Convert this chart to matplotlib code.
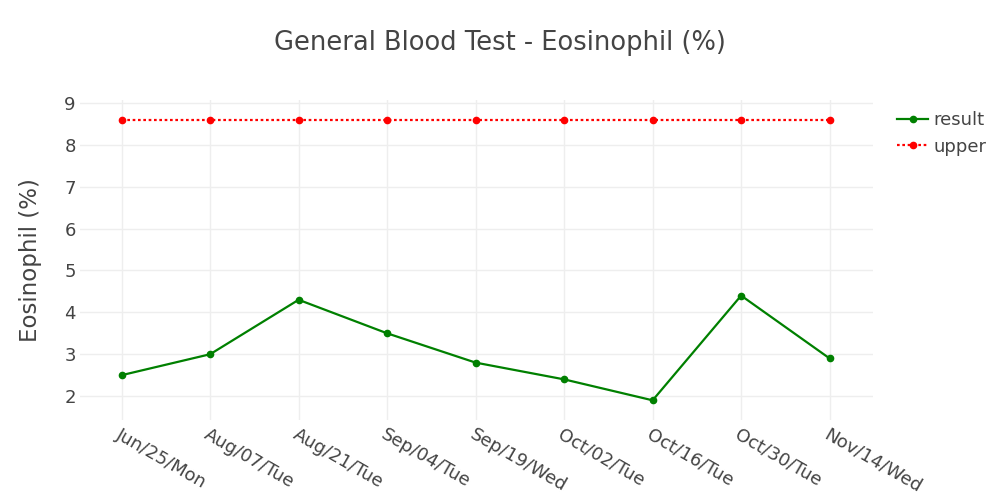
import matplotlib
matplotlib.use("Agg")
import matplotlib.pyplot as plt

plt.rcParams["font.family"] = ["DejaVu Sans"]

# data
dates = ["Jun/25/Mon", "Aug/07/Tue", "Aug/21/Tue", "Sep/04/Tue", "Sep/19/Wed",
         "Oct/02/Tue", "Oct/16/Tue", "Oct/30/Tue", "Nov/14/Wed"]
result = [2.5, 3.0, 4.3, 3.5, 2.8, 2.4, 1.9, 4.4, 2.9]
upper = [8.6, 8.6, 8.6, 8.6, 8.6, 8.6, 8.6, 8.6, 8.6]

text_col = "#444444"
grid_col = "#eeeeee"

fig = plt.figure(figsize=(10, 5), dpi=100)
ax = fig.add_axes([0.08, 0.16, 0.793, 0.64])

x = list(range(len(dates)))
ax.plot(x, result, color="green", lw=1.6, marker="o", ms=4.5, label="result", zorder=3)
ax.plot(x, upper, color="red", lw=1.6, ls=(0, (1.2, 1.2)), marker="o", ms=4.5,
        label="upper", zorder=3)

ax.set_xlim(-0.47, 8.49)
ax.set_ylim(1.43, 9.07)
ax.set_yticks(range(2, 10))
ax.set_xticks(x)
ax.set_xticklabels(dates, rotation=-30, ha="left", va="top", rotation_mode="anchor")

ax.grid(True, color=grid_col, lw=1)
ax.set_axisbelow(True)
for s in ax.spines.values():
    s.set_visible(False)
ax.tick_params(length=0, labelsize=13, labelcolor=text_col)
ax.tick_params(axis="x", pad=4)
ax.tick_params(axis="y", pad=3)

ax.set_ylabel("Eosinophil (%)", fontsize=16.5, color=text_col, labelpad=16)
fig.text(0.5, 0.915, "General Blood Test - Eosinophil (%)", ha="center", va="center",
         fontsize=18.5, color=text_col)

leg = ax.legend(loc="upper left", bbox_to_anchor=(1.01, 1.015), frameon=False,
                fontsize=13, handlelength=1.7, labelspacing=0.45, handletextpad=0.3)
for t in leg.get_texts():
    t.set_color(text_col)

fig.savefig("out.png", dpi=100)
